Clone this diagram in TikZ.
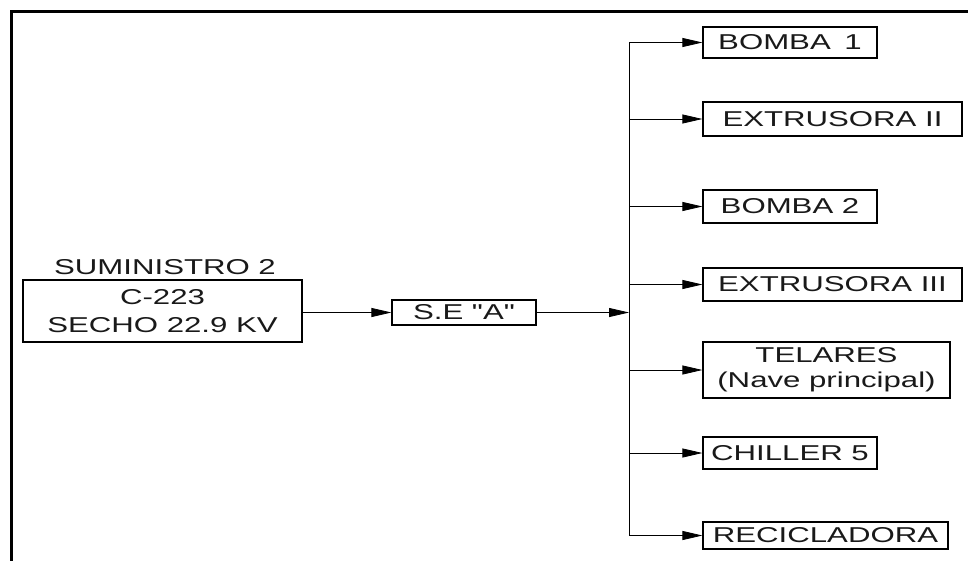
\documentclass[tikz,border=0pt]{standalone}
\usepackage{fontspec}
\newfontfamily\diagfont[FakeStretch=1.45]{Liberation Sans}
\usetikzlibrary{arrows.meta}
\tikzset{
  box/.style={draw=black, line width=1.2pt, inner sep=0pt, align=center,
    font=\diagfont\fontsize{21.5}{25}\selectfont, text=black!90},
  arr/.style={line width=0.8pt, -{Triangle[length=20pt,width=9pt]}},
  wire/.style={line width=0.8pt},
  frame/.style={line width=3pt}
}
\begin{document}
\begin{tikzpicture}[x=1pt,y=1pt]
\useasboundingbox (0,0) rectangle (968,-560);
\fill[white] (0,0) rectangle (968,-560);
% frame
\coordinate (fb) at (11,-562);
\coordinate (fc) at (11,-11);
\coordinate (fr) at (970,-11);
\draw[frame] (fb) -- (fc) -- (fr);
% source
\node[box, minimum width=279pt, minimum height=62pt, font=\diagfont\fontsize{21.5}{28}\selectfont] (src) at (162.5,-311) {C-223\\SECHO 22.9 KV};
\node[font=\diagfont\fontsize{21.5}{25}\selectfont, text=black!90, inner sep=0pt] (lbl) at (165,-267) {SUMINISTRO 2};
% substation
\node[box, minimum width=144pt, minimum height=25pt] (se) at (464,-312.5) {S.E "A"};
% loads
\node[box, minimum width=174pt, minimum height=31pt] (b1) at (790,-42.5) {BOMBA\hspace{5pt} 1};
\node[box, minimum width=259pt, minimum height=34pt] (e2) at (832.5,-119) {EXTRUSORA II};
\node[box, minimum width=174pt, minimum height=33pt] (b2) at (790,-206.5) {BOMBA 2};
\node[box, minimum width=259pt, minimum height=33pt] (e3) at (832.5,-284.5) {EXTRUSORA III};
\node[box, minimum width=247pt, minimum height=56pt] (tel) at (826.5,-370) {TELARES\\(Nave principal)};
\node[box, minimum width=174pt, minimum height=32pt] (ch) at (790,-453) {CHILLER 5};
\node[box, minimum width=245pt, minimum height=27pt] (rec) at (825.5,-535.5) {RECICLADORA};
% bus
\coordinate (bt) at (629,-42.5);
\coordinate (bb) at (629,-535.5);
\coordinate (bm) at (629,-312.5);
\draw[wire] (bt) -- (bb);
\draw[arr] (src.east |- se.west) -- (se.west);
\draw[arr] (se.east) -- (bm);
\foreach \n in {b1,e2,b2,e3,tel,ch,rec}{
  \draw[arr] (bt |- \n.west) -- (\n.west);
}
\end{tikzpicture}
\end{document}
